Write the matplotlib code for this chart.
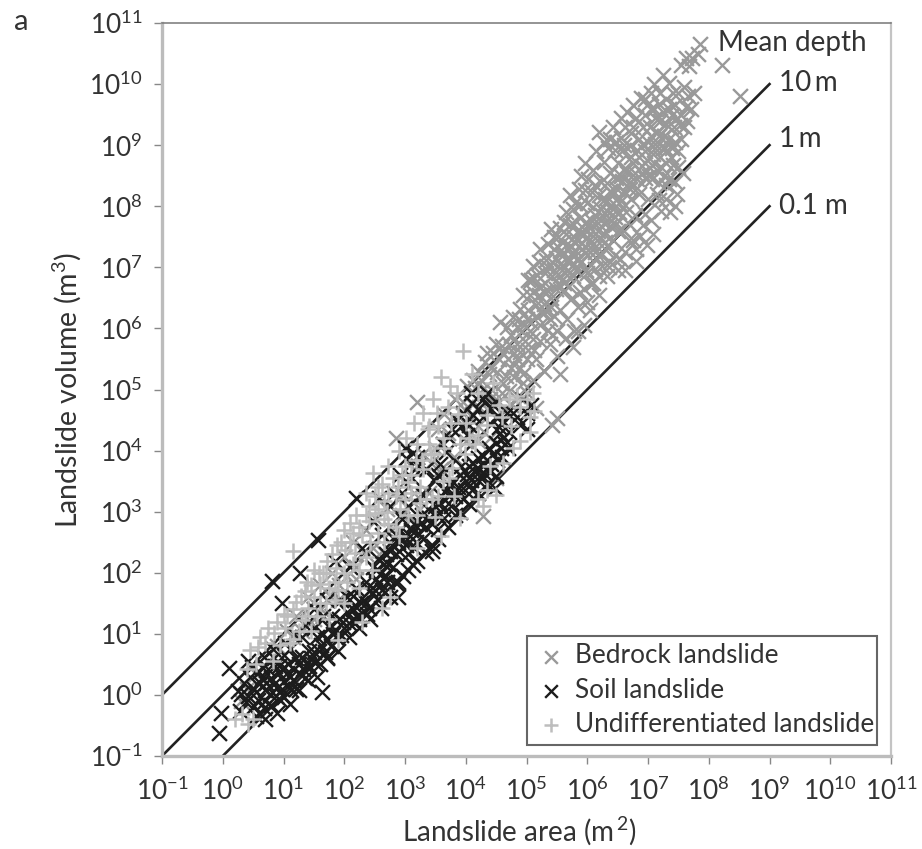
import matplotlib
matplotlib.use("Agg")
import matplotlib.pyplot as plt

plt.rcParams['font.family'] = ['Lato', 'DejaVu Sans']
plt.rcParams['mathtext.default'] = 'regular'

# all points are (log10 area, log10 volume)
bedrock = [
 (7.86,10.65),(7.82,10.5),(7.72,10.42),(7.62,10.43),(7.68,10.3),(7.55,10.32),(8.22,10.32),(8.52,9.8),
 (7.35,10.02),(7.41,9.85),(7.3,9.76),(7.6,9.95),(7.66,9.8),(7.5,9.86),(7.45,9.66),(7.63,9.62),(7.55,9.5),
 (7.53,9.33),(7.4,9.5),(7.33,9.32),(7.25,9.55),(7.18,9.68),(7.12,9.44),(7.05,9.6),(6.88,9.77),(6.95,9.5),
 (7.26,9.15),(7.15,9.22),(7.04,9.3),(6.92,9.3),(6.8,9.44),(6.72,9.2),(6.2,9.22),(6.42,9.3),(6.55,9.12),
 (6.62,9.3),(6.85,9.1),(7.0,9.05),(7.12,9.02),(7.28,8.95),(7.38,8.8),(7.41,8.67),(7.3,8.7),(7.2,8.8),
 (7.08,8.85),(6.95,8.9),(6.82,8.92),(6.7,8.98),(6.58,8.9),(6.45,8.92),(6.34,8.96),(5.96,8.7),(6.1,8.6),
 (6.28,8.72),(6.38,8.55),(6.5,8.7),(6.62,8.62),(6.75,8.7),(6.9,8.66),(7.03,8.62),(7.15,8.6),(7.26,8.5),
 (7.18,8.38),(7.06,8.44),(6.95,8.46),(6.82,8.45),(6.7,8.4),(6.58,8.42),(6.47,8.46),(6.33,8.38),(6.22,8.4),
 (5.71,8.18),(5.86,8.28),(5.96,8.26),(6.08,8.24),(6.2,8.18),(6.3,8.12),(6.42,8.2),(6.52,8.15),(6.62,8.22),
 (6.72,8.12),(6.85,8.2),(7.0,8.12),(7.48,8.2),(7.3,8.12),(5.76,7.96),(5.88,8.02),(6.0,8.05),(6.1,7.98),
 (6.22,7.95),(6.32,7.92),(6.42,7.96),(6.52,7.9),(6.64,7.9),(6.78,7.85),(7.36,7.9),(7.22,7.92),(6.95,7.88),
 (5.62,7.75),(5.75,7.72),(5.88,7.8),(5.98,7.74),(6.08,7.76),(6.18,7.72),(6.28,7.72),(6.38,7.68),(6.46,7.7),
 (6.58,7.62),(6.98,7.36),(7.08,7.55),(6.87,7.52),(6.8,7.3),(6.68,7.45),(5.4,7.62),(5.52,7.5),(5.65,7.54),
 (5.78,7.5),(5.9,7.55),(6.0,7.5),(6.1,7.52),(6.2,7.48),(6.3,7.42),(6.42,7.45),(6.54,7.14),(6.62,7.25),
 (6.45,7.2),(6.32,6.86),(6.38,7.08),(5.22,7.3),(5.35,7.38),(5.45,7.3),(5.56,7.28),(5.68,7.32),(5.8,7.28),
 (5.92,7.3),(6.02,7.28),(6.12,7.25),(6.22,7.2),(6.25,7.02),(6.12,6.98),(5.02,6.8),(5.1,7.02),(5.2,7.08),
 (5.32,7.12),(5.42,7.08),(5.55,7.05),(5.66,7.1),(5.78,7.05),(5.9,7.08),(5.98,6.95),(6.06,6.72),(5.99,6.43),
 (5.88,6.6),(5.76,6.85),(5.66,6.88),(5.55,6.85),(5.42,6.85),(5.3,6.9),(5.18,6.88),(5.08,6.8),(4.95,6.55),
 (5.1,6.6),(5.22,6.68),(5.35,6.62),(5.48,6.65),(5.6,6.6),(5.75,6.5),(5.67,6.15),(5.55,6.3),(5.4,6.35),
 (5.28,6.4),(5.15,6.38),(5.02,6.3),(4.9,6.32),(4.78,6.18),(4.84,6.02),(4.56,6.1),(4.68,6.02),(4.96,6.05),
 (5.08,6.1),(5.22,6.05),(5.36,5.98),(5.5,5.95),(5.77,5.7),(5.5,5.55),(5.55,5.25),(5.38,5.75),(5.22,5.8),
 (5.1,5.82),(4.98,5.8),(4.85,5.75),(4.72,5.75),(4.6,5.72),(4.45,5.6),(4.55,5.5),(4.7,5.5),(4.85,5.5),
 (5.0,5.5),(5.15,5.5),(5.28,5.3),(4.32,5.45),(4.2,5.3),(4.38,5.25),(4.52,5.28),(4.66,5.22),(4.8,5.2),
 (4.95,5.25),(5.1,5.15),(5.0,4.95),(4.86,4.9),(5.15,4.7),(5.5,4.54),(5.42,4.42),(4.02,5.05),(4.15,5.02),
 (4.3,5.02),(4.44,5.0),(4.6,4.95),(4.75,4.75),(3.82,4.85),(3.95,4.8),(4.08,4.78),(4.22,4.72),(4.38,4.65),
 (3.2,4.79),(2.85,4.2),(3.65,4.6),(3.8,4.55),(3.98,4.45),(4.2,4.4),(3.55,4.35),(3.7,4.28),(3.5,4.05),
 (3.3,3.95),(3.42,3.8),(3.15,3.7),(3.0,3.5),(4.28,2.93),(4.5,3.55),(3.9,3.62),(2.9,3.2),(2.7,3.05),
 (2.5,2.9),(2.35,2.7),(2.15,2.5),(2.0,2.25),(1.8,2.0),(1.6,1.8),(1.4,1.6),(1.2,1.3),(1.05,1.05),
 (0.9,0.8),(0.75,0.55),(0.55,0.35),(0.4,0.1),(0.3,-0.1),(2.2,1.9),(1.9,1.55),(1.5,1.25),(1.15,0.95),
 (5.6,7.2),(5.7,7.1),(5.72,7.35),(5.8,7.4),(5.85,7.15),(5.92,7.4),(5.95,7.62),(6.0,7.2),(6.05,7.4),(6.05,7.65),
 (6.12,7.85),(6.15,7.35),(6.18,7.6),(6.25,7.85),(6.28,7.55),(6.3,8.05),(6.35,7.8),(6.38,8.25),(6.42,8.05),
 (6.45,7.82),(6.48,8.3),(6.52,8.05),(6.55,8.5),(6.6,8.25),(6.62,8.02),(6.65,8.55),(6.7,8.28),(6.72,8.8),
 (6.78,8.55),(6.82,8.3),(6.85,8.8),(6.9,8.55),(6.92,9.0),(6.98,8.75),(7.02,8.5),(7.05,9.15),(7.1,8.7),
 (7.12,8.95),(7.18,9.15),(7.22,8.65),(7.25,8.95),(7.3,9.35),(7.35,9.1),(7.42,9.3),(7.45,9.05),(7.2,9.4),
 (7.1,9.6),(6.98,9.65),(7.35,9.6),(7.48,9.45),(5.3,6.75),(5.35,7.0),(5.4,6.5),(5.45,6.95),(5.48,7.15),
 (5.52,6.72),(5.58,6.95),(5.6,7.42),(5.62,6.75),(5.68,6.95),(5.7,6.7),(5.75,7.2),(5.82,6.95),(5.85,7.6),
 (5.05,6.55),(5.12,6.82),(5.15,6.2),(5.2,6.55),(5.25,6.25),(5.28,6.6),(5.32,6.28),(5.38,6.15),(5.42,5.9),
 (5.45,6.2),(4.88,6.15),(4.92,5.95),(5.0,6.15),(5.05,5.95),(4.75,5.9),(4.8,5.6),(4.9,5.62),(4.62,5.6),
 (4.5,5.75),(4.35,5.6),(4.42,5.35),(4.25,5.15),(4.12,5.15),(4.62,5.1),(4.75,5.35),(4.9,5.35),(5.02,5.65),
 (5.12,5.65),(4.95,5.1),(4.72,4.98),(4.55,4.8),(4.4,4.85),(4.1,4.6),(4.0,4.65),(6.0,6.9),(6.15,7.15),
 (6.3,7.3),(6.5,7.6),(6.7,7.7),(5.85,6.35),(5.95,6.65),(6.1,6.75),(6.2,6.85),(6.35,7.0),(6.5,6.95),
 (6.75,7.45),(6.92,7.7),(7.05,7.78),(7.18,8.1),(7.3,8.35),
 (6.55,9.45),(6.65,9.55),(6.75,9.65),(6.6,9.0),(6.75,9.3),(6.48,9.05),(6.38,9.1),(6.28,9.05),(6.15,8.9),
 (6.02,8.45),(5.9,8.5),(5.8,8.05),(6.12,8.35),(5.65,7.9),(5.55,7.65),(5.45,7.5),(5.72,7.7),(7.55,9.1),
 (7.6,9.3),(7.5,8.9),(7.4,8.95),(7.45,8.4),(7.58,8.55),(7.35,8.45),(7.5,8.65),(7.65,9.4),(7.7,9.6),
 (7.75,9.85),(7.2,9.85),(7.05,9.85),(6.95,9.75),(7.1,10.0),(7.25,10.15),(7.15,8.2),(7.45,8.0),(6.8,7.1),
 (6.62,6.95),(6.2,6.55),(6.05,6.3),(5.85,5.95),(5.65,5.85),(5.95,6.05),(5.78,5.95),
 (1.3,1.05),(1.45,1.2),(1.62,1.4),(1.78,1.6),(1.92,1.8),(2.05,1.95),(2.2,2.1),(2.35,2.3),(2.48,2.4),
 (2.62,2.35),(2.78,2.7),(2.95,2.95),(3.1,2.9),(3.25,3.05),(3.4,3.3),(3.6,3.7),(3.8,3.9),(4.0,4.15),
 (4.2,4.15),(4.4,4.2),(3.15,3.3),
]

soil = [
 (-0.06,-0.63),(-0.03,-0.29),(0.11,0.44),(0.29,-0.26),(0.25,0.07),(1.63,0.04),(1.6,0.51),(1.71,0.62),
 (0.81,1.86),(0.97,1.5),(1.27,1.99),(1.57,2.54),(2.2,3.22),(2.89,1.61),(2.86,1.83),(3.13,2.13),(3.44,2.35),
 (0.3,0.02),(0.38,-0.12),(0.45,0.3),(0.5,0.12),(0.52,-0.18),(0.6,0.38),(0.62,0.2),(0.61,-0.31),(0.7,0.08),
 (0.7,-0.1),(0.75,0.42),(0.8,0.28),(0.8,-0.16),(0.86,0.48),(0.9,0.12),(0.92,0.36),(0.95,-0.08),(1.0,0.46),
 (1.0,0.22),(1.0,-0.04),(1.08,0.5),(1.1,0.3),(1.12,0.08),(1.18,0.42),(1.2,0.6),(1.27,0.35),(1.3,0.62),
 (1.38,0.5),(1.42,0.72),(1.5,0.7),(1.55,0.95),(1.62,0.82),(1.65,1.0),(1.72,0.9),(1.75,1.12),(1.85,1.06),
 (1.87,0.95),(1.92,1.25),(2.0,1.1),(2.05,1.35),(2.12,1.22),(2.2,1.44),(2.25,1.25),(2.3,1.58),(2.37,1.33),
 (2.42,1.72),(2.48,2.1),(2.5,1.88),(2.55,1.55),(2.6,2.0),(2.62,1.72),(2.55,2.22),(2.68,2.3),(2.7,1.85),
 (2.78,2.45),(2.8,2.1),(2.86,2.62),(2.9,2.35),(2.97,1.94),(3.0,2.58),(3.05,2.3),(3.1,2.7),(3.18,2.5),
 (3.25,2.8),(3.3,2.55),(3.4,2.9),(3.46,2.43),(3.5,3.1),(3.55,2.72),(3.6,3.25),(3.65,2.9),(3.74,3.42),
 (3.75,3.1),(3.82,2.95),(3.85,3.35),(3.9,3.6),(3.95,3.2),(4.0,3.5),(4.05,3.75),(4.1,3.35),(4.15,3.65),
 (4.2,3.88),(4.22,3.5),(4.29,3.91),(4.32,3.62),(4.38,4.05),(4.42,3.78),(4.5,3.58),(4.5,4.12),(4.56,4.29),
 (4.6,3.9),(4.65,4.1),(4.72,4.3),(3.13,3.96),(3.02,3.88),(3.22,3.75),(3.35,3.7),(3.12,3.55),(2.92,3.6),
 (3.85,4.5),(3.78,4.35),(3.95,4.62),(4.05,4.42),(4.12,4.58),(4.29,4.84),(4.2,4.68),(4.38,4.72),(4.5,4.55),
 (4.62,4.48),(4.78,4.62),(5.0,4.62),(4.9,4.42),(5.08,4.75),(4.95,4.85),(3.68,3.98),(3.58,3.78),(2.48,2.85),
 (2.62,2.62),(2.3,2.4),(2.1,2.1),(1.85,2.2),(1.72,1.55),(1.5,1.4),(1.35,1.15),(1.18,1.0),(1.02,0.85),
 (0.82,0.75),(0.68,0.62),(2.75,3.1),(2.58,3.22),(2.82,3.3),(3.48,3.52),(3.3,3.28),(3.05,3.1),(2.95,2.88),
 (0.35,0.2),(0.42,-0.02),(0.48,0.45),(0.55,0.05),(0.58,-0.08),(0.65,0.28),(0.68,-0.22),(0.72,0.2),(0.78,0.02),
 (0.85,0.18),(0.88,-0.02),(0.92,0.48),(0.98,0.1),(1.05,0.36),(1.08,0.15),(1.15,0.25),(1.2,0.1),(1.25,0.5),
 (1.32,0.42),(1.35,0.28),(1.42,0.48),(1.45,0.6),(1.52,0.52),(1.58,0.72),(1.68,0.7),(1.78,0.8),(1.82,1.0),
 (1.95,0.98),(1.98,1.2),(2.08,1.18),(2.15,1.4),(2.22,1.3),(2.28,1.5),(2.35,1.5),(2.4,1.42),(2.45,1.65),
 (2.5,1.72),(2.52,2.05),(2.58,1.85),(2.65,2.15),(2.68,1.95),(2.72,2.15),(2.75,2.35),(2.82,2.55),(2.85,2.3),
 (2.88,2.5),(2.92,2.7),(2.95,2.55),(3.02,2.45),(3.08,2.6),(3.15,2.8),(3.15,2.4),(3.22,2.65),(3.28,2.95),
 (3.35,2.75),(3.38,3.05),(3.45,2.8),(3.52,2.95),(3.58,3.15),(3.62,3.05),(3.68,3.35),(3.72,3.25),(3.78,3.5),
 (3.82,3.25),(3.88,3.4),(3.92,3.75),(3.98,3.35),(4.02,3.62),(4.08,3.52),(4.12,3.8),(4.18,3.72),(4.25,3.6),
 (4.28,3.75),(4.35,3.85),(4.4,3.65),(4.45,3.95),(4.52,3.85),(4.58,4.05),(4.62,4.2),(4.7,4.05),(3.92,4.4),
 (4.02,4.25),(4.1,4.78),(4.28,4.55),(4.35,4.95),(4.45,4.75),(4.55,4.38),(4.68,4.62),(4.85,4.55),(5.0,4.35),
 (4.08,4.95),(3.72,4.2),(3.62,4.1),(3.55,3.6),(3.0,4.05),(3.2,3.9),(2.95,3.3),
 (1.1,0.75),(1.3,0.95),(1.5,1.1),(1.65,1.3),(1.8,1.3),(1.95,1.55),(2.05,1.6),(2.2,1.75),(2.35,1.85),(2.15,1.62),
 (0.85,0.6),(1.0,0.65),(0.65,0.45),(0.42,0.55),(0.55,-0.35),(0.7,-0.4),(0.9,-0.3),(1.1,-0.15),(1.25,0.08),
 (1.4,0.25),(1.55,0.3),(1.72,0.6),(1.9,0.72),(2.08,0.95),(2.25,1.1),(2.42,1.25),(2.6,1.42),(2.75,1.6),
 (2.88,1.85),(3.05,2.05),(3.2,2.2),(3.35,2.32),(3.55,2.55),(3.7,2.75),(3.9,3.0),(4.05,3.12),(4.2,3.3),
 (4.35,3.45),(4.48,3.38),
]

undiff = [
 (1.16,2.35),(0.45,0.73),(1.0,1.33),(1.65,1.99),(2.09,2.81),(2.48,3.63),(2.72,3.75),(3.46,4.84),(3.74,5.06),
 (4.29,3.1),(4.5,3.28),(5.1,4.95),(5.05,4.55),(3.95,5.63),(4.1,5.25),(3.6,5.2),(3.3,4.62),(3.15,4.45),
 (3.52,4.62),(3.38,4.35),(3.7,4.72),(3.85,4.95),(3.02,4.2),(2.9,4.0),(3.2,4.1),(3.4,4.1),(3.62,4.2),
 (2.62,3.45),(2.8,3.55),(3.0,3.75),(2.35,3.3),(2.5,3.25),(2.66,3.18),(2.85,3.25),(2.2,2.95),(2.35,2.95),
 (2.5,2.98),(2.65,2.88),(2.0,2.7),(2.15,2.65),(2.3,2.62),(2.42,2.5),(1.88,2.45),(2.02,2.38),(2.18,2.32),
 (1.72,2.2),(1.86,2.08),(2.0,2.0),(1.5,2.05),(1.6,1.82),(1.75,1.75),(1.9,1.72),(1.38,1.85),(1.5,1.6),
 (1.28,1.62),(1.4,1.42),(1.55,1.3),(1.15,1.4),(1.3,1.22),(1.02,1.1),(1.15,0.92),(0.85,1.02),(0.95,0.82),
 (0.7,0.85),(0.58,0.78),(0.82,0.55),(0.55,0.5),(0.4,0.42),(0.32,-0.32),(0.42,-0.48),(0.5,-0.4),(0.2,-0.4),
 (1.9,0.9),(2.3,1.2),(2.62,1.42),(2.75,1.6),(3.2,2.4),(3.6,2.6),(3.9,2.9),(4.2,3.2),(4.35,3.35),
 (3.25,3.4),(3.1,3.3),(2.92,3.05),(2.72,2.8),(3.45,3.2),(3.62,3.5),(3.78,3.72),(3.9,4.1),(4.05,4.2),
 (4.2,4.25),(4.35,4.42),(4.55,4.75),(4.72,4.85),(4.9,4.72),(5.05,4.3),(4.9,4.15),(4.78,4.05),(3.48,3.95),
 (3.28,3.85),(3.05,3.48),(4.62,3.8),(4.4,3.75),(3.98,3.95),(3.8,3.25),(3.5,2.92),(3.2,2.95),(2.9,2.6),
 (0.62,0.95),(0.75,1.1),(0.9,1.2),(1.05,1.3),(1.2,1.52),(1.35,1.7),(1.45,1.8),(1.58,2.0),(1.7,2.0),(1.8,2.3),
 (1.95,2.5),(2.1,2.5),(2.25,2.75),(2.4,2.85),(2.4,3.1),(2.55,3.05),(2.55,3.4),(2.7,3.0),(2.72,3.3),(2.88,3.4),
 (2.95,3.6),(3.1,3.6),(3.18,3.85),(3.3,3.7),(3.42,3.95),(3.4,4.4),(3.55,4.4),(3.65,4.05),(3.75,4.45),(3.88,4.6),
 (4.0,4.45),(4.2,4.95),(4.45,5.1),(4.35,4.58),(4.15,4.1),(4.6,4.55),(4.85,4.9),(4.75,4.4),(5.0,4.85),(5.12,4.65),
 (2.25,2.05),(2.05,1.85),(1.85,1.55),(2.65,2.5),(2.85,2.75),(3.05,2.95),(3.35,3.2),(3.0,3.2),(3.25,3.15),
 (3.55,3.25),(3.72,3.55),(1.7,1.5),(1.6,1.5),(1.35,1.3),(1.85,1.85),(2.15,2.15),(2.35,2.25),(2.55,2.65),
 (1.1,0.85),(1.25,1.05),(1.45,1.05),(1.75,1.25),(2.0,1.5),(2.25,1.75),(2.45,2.05),
]

area_ticks = [-1, 0, 1, 2, 3, 4, 5, 6, 7, 8, 9, 10, 11]

depth_10m_area = [1e-1, 1e9]
depth_10m_volume = [1e0, 1e10]
depth_1m_area = [1e-1, 1e9]
depth_1m_volume = [1e-1, 1e9]
depth_01m_area = [1e0, 1e9]
depth_01m_volume = [1e-1, 1e8]

text_col = '#333333'


def to_xy(points):
    return [10**p[0] for p in points], [10**p[1] for p in points]


fig = plt.figure(figsize=(9.22, 8.49), dpi=100)
ax = fig.add_axes([162/922, 1-756/849, (891-162)/922, (756-23)/849])

ax.plot(depth_10m_area, depth_10m_volume, color='#222222', lw=1.9, zorder=1)
ax.plot(depth_1m_area, depth_1m_volume, color='#222222', lw=1.9, zorder=1)
ax.plot(depth_01m_area, depth_01m_volume, color='#222222', lw=1.9, zorder=1)

x, y = to_xy(bedrock)
ax.scatter(x, y, marker='x', s=115, lw=1.7, color='#999999', label='Bedrock landslide', zorder=2)
x, y = to_xy(soil)
ax.scatter(x, y, marker='x', s=115, lw=1.7, color='#1c1c1c', label='Soil landslide', zorder=3)
x, y = to_xy(undiff)
ax.scatter(x, y, marker='+', s=130, lw=1.8, color='#bdbdbd', label='Undifferentiated landslide', zorder=4)

ax.set_xscale('log')
ax.set_yscale('log')
ax.set_xlim(1e-1, 1e11)
ax.set_ylim(1e-1, 1e11)
ax.set_xticks([10.0**t for t in area_ticks])
ax.set_yticks([10.0**t for t in area_ticks])
ax.minorticks_off()
ax.tick_params(axis='both', which='major', length=6, width=1.0, color='#888888', labelsize=19,
               labelcolor=text_col)
ax.tick_params(axis='x', pad=9)
ax.tick_params(axis='y', pad=8)
ax.spines['left'].set_color('#bcbcbc')
ax.spines['left'].set_linewidth(2.4)
ax.spines['bottom'].set_color('#bcbcbc')
ax.spines['bottom'].set_linewidth(2.4)
ax.spines['top'].set_color('#777777')
ax.spines['top'].set_linewidth(1.1)
ax.spines['right'].set_color('#c4c4c4')
ax.spines['right'].set_linewidth(1.6)

ax.set_xlabel('Landslide area (m$^{\\,2}$)', fontsize=20, color=text_col, labelpad=7, x=0.49)
ax.set_ylabel('Landslide volume (m$^{3}$)', fontsize=20.5, color=text_col, labelpad=4, y=0.5)

ax.text(10**8.15, 10**10.68, 'Mean depth', fontsize=20, color=text_col, va='center', zorder=6)
ax.text(10**9.16, 10**10.02, '10\u2009m', fontsize=20, color=text_col, va='center')
ax.text(10**9.16, 10**9.1, '1\u2009m', fontsize=20, color=text_col, va='center')
ax.text(10**9.16, 10**8.01, '0.1 m', fontsize=20, color=text_col, va='center')
fig.text(14/922, 1-22/849, 'a', fontsize=21, color=text_col, va='center')

leg = ax.legend(loc='lower left', bbox_to_anchor=((527-162)/729, 11/733, 350/729, 0.1), mode='expand',
                borderaxespad=0, fontsize=18.8, labelcolor=text_col, handlelength=1.2, handletextpad=0.35,
                labelspacing=0.36, borderpad=0.3, fancybox=False, framealpha=1, edgecolor='#666666',
                scatterpoints=1, markerscale=0.85)
leg.get_frame().set_linewidth(1.5)
leg.set_zorder(7)

fig.savefig('out.png', dpi=100)
